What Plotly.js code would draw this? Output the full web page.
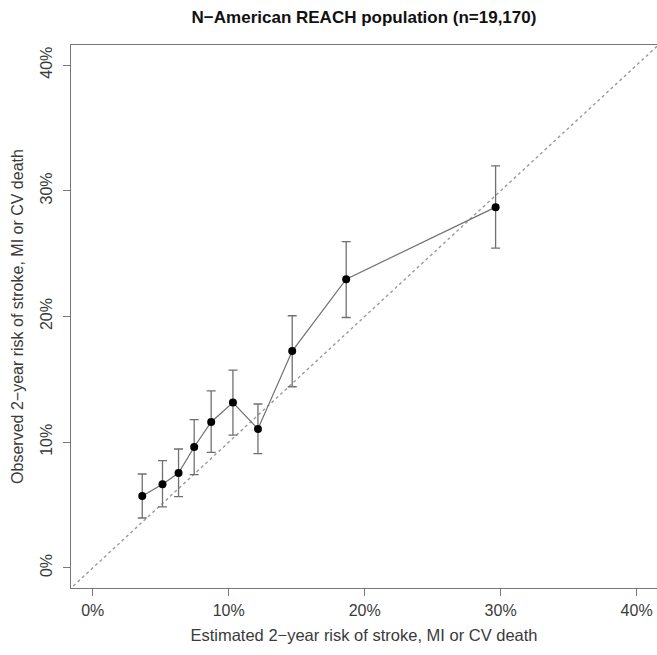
<!DOCTYPE html>
<html>
<head>
<meta charset="utf-8">
<script src="https://cdn.plot.ly/plotly-3.0.1.min.js"></script>
<style>html,body{margin:0;padding:0;background:#fff;}#chart{width:657px;height:655px;}</style>
</head>
<body>
<div id="chart"></div>
<script>
// Estimated vs observed 2-year risk (%)
const estimated = [3.64, 5.13, 6.31, 7.46, 8.71, 10.31, 12.15, 14.67, 18.64, 29.63];
const observed  = [5.72, 6.65, 7.55, 9.62, 11.61, 13.16, 11.05, 17.25, 22.97, 28.70];
const ciUpper   = [7.47, 8.53, 9.46, 11.79, 14.09, 15.74, 13.04, 20.06, 25.96, 31.98];
const ciLower   = [3.97, 4.85, 5.67, 7.42, 9.19, 10.56, 9.09, 14.41, 19.92, 25.44];
const tickVals  = [0, 10, 20, 30, 40];
const tickText  = ['0%', '10%', '20%', '30%', '40%'];
const diagonal  = [-5, 50];

const errPlus  = ciUpper.map((u, i) => u - observed[i]);
const errMinus = observed.map((o, i) => o - ciLower[i]);

const font = 'Liberation Sans, Arial, sans-serif';

const traces = [
  {
    x: diagonal, y: diagonal, mode: 'lines', type: 'scatter',
    line: {color: '#9a9a9a', width: 1.4, dash: 'dot'}, hoverinfo: 'skip', showlegend: false
  },
  {
    x: estimated, y: observed, mode: 'lines+markers', type: 'scatter',
    line: {color: '#707070', width: 1.2},
    marker: {color: '#000', size: 8},
    error_y: {type: 'data', symmetric: false, array: errPlus, arrayminus: errMinus,
              color: '#707070', thickness: 1.3, width: 4.5},
    showlegend: false
  }
];

const axisCommon = {
  range: [-1.6, 41.6],
  tickvals: tickVals, ticktext: tickText,
  ticks: 'outside', ticklen: 7, tickwidth: 1.2, tickcolor: '#777',
  showline: true, mirror: true, linecolor: '#777', linewidth: 1.3,
  showgrid: false, zeroline: false,
  tickfont: {family: font, size: 16, color: '#3a3a3a'}
};

const layout = {
  width: 657, height: 655,
  margin: {l: 71, r: 0, t: 45, b: 67},
  paper_bgcolor: '#fff', plot_bgcolor: '#fff',
  title: {text: '<b>N\u2212American REACH population (n=19,170)</b>',
          font: {family: font, size: 17, color: '#111'},
          x: 0.5, xref: 'paper', y: 0.974, yref: 'container', yanchor: 'middle'},
  xaxis: Object.assign({}, axisCommon, {
    range: [-1.6, 41.5],
    title: {text: 'Estimated 2\u2212year risk of stroke, MI or CV death',
            font: {family: font, size: 16.5, color: '#3a3a3a'}, standoff: 12}
  }),
  yaxis: Object.assign({}, axisCommon, {
    tickangle: -90,
    ticklabelstandoff: 4,
    title: {text: 'Observed 2\u2212year risk of stroke, MI or CV death',
            font: {family: font, size: 16, color: '#3a3a3a'}, standoff: 10}
  })
};

Plotly.newPlot('chart', traces, layout, {displayModeBar: false, staticPlot: true});
</script>
</body>
</html>
